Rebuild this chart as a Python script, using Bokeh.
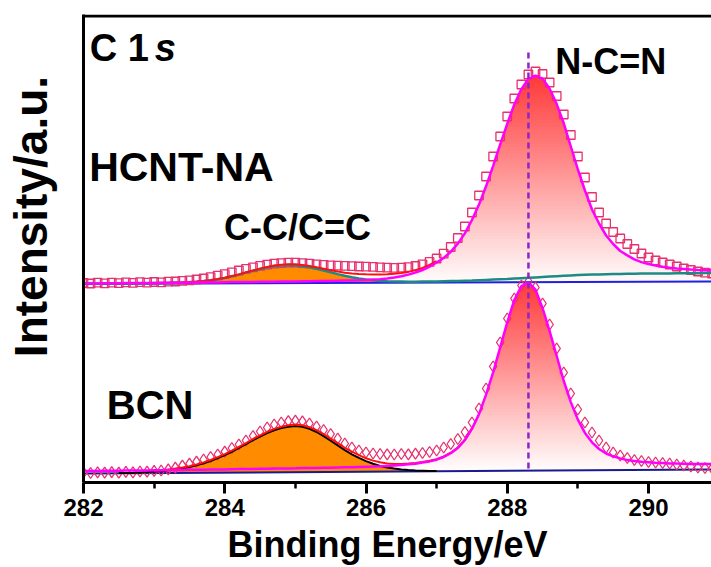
import numpy as np
from bokeh.plotting import figure
from bokeh.models import Range1d, FixedTicker, Label, Span
from bokeh.embed import file_html
from bokeh.resources import INLINE

# ---------------- data ----------------
energy = [round(282.0 + 0.1 * i, 1) for i in range(90)]   # binding energy grid, eV

x_ticks = [282, 284, 286, 288, 290]
x_minor = [283, 285, 287, 289]
ncn_position = 288.3

# BCN (lower spectrum)
bcn_data = [10.0, 9.5, 10.2, 9.8, 10.4, 9.9, 10.6, 10.2, 11.0, 10.8,
            11.6, 12.0, 13.2, 14.8, 16.8, 18.8, 20.8, 23.0, 25.5, 28.0,
            30.8, 34.5, 38.0, 42.0, 46.5, 51.0, 55.0, 58.0, 60.0, 61.3,
            61.8, 61.2, 59.0, 56.0, 52.5, 48.5, 44.0, 39.0, 35.0, 32.0,
            30.0, 29.0, 28.5, 28.2, 28.0, 28.5, 28.2, 28.8, 29.5, 30.5,
            32.0, 35.0, 38.5, 43.5, 50.5, 60.0, 74.0, 94.0, 116.0, 140.0,
            164.0, 184.0, 197.0, 201.0, 195.0, 179.0, 158.0, 134.0, 110.0, 89.0,
            73.0, 60.0, 50.0, 42.0, 35.0, 30.0, 27.0, 24.5, 22.5, 21.5,
            20.5, 20.0, 19.5, 19.0, 18.0, 17.0, 16.0, 15.0, 14.5, 14.0]
bcn_ncn = [11.5, 11.6, 11.6, 11.7, 11.8, 11.8, 11.9, 12.0, 12.0, 12.1,
           12.3, 12.3, 12.4, 12.5, 12.6, 12.7, 12.8, 12.8, 12.9, 13.0,
           13.1, 13.3, 13.4, 13.4, 13.6, 13.7, 13.7, 13.9, 14.0, 14.1,
           14.2, 14.4, 14.4, 14.6, 14.7, 14.8, 15.0, 15.2, 15.3, 15.5,
           15.7, 15.9, 16.2, 16.6, 17.0, 17.5, 18.2, 18.7, 19.9, 21.1,
           22.8, 25.5, 29.3, 34.5, 42.4, 53.6, 68.4, 87.9, 110.2, 135.2,
           160.2, 182.5, 196.4, 200.0, 192.9, 174.4, 151.4, 126.5, 101.5, 80.4,
           62.9, 49.6, 40.2, 33.5, 29.0, 26.2, 24.1, 22.4, 21.6, 20.7,
           20.2, 19.7, 19.5, 19.1, 18.9, 18.8, 18.6, 18.6, 18.6, 18.5]
bcn_cc_energy = energy[5:51]          # 282.5 ... 287.0
bcn_cc = [9.4, 9.6, 9.8, 10.1, 10.4, 10.9, 11.4, 12.2, 13.1, 14.0,
          15.4, 17.1, 19.2, 21.5, 24.4, 27.4, 30.7, 34.6, 38.3, 42.3,
          46.0, 49.5, 52.3, 54.5, 55.8, 56.4, 55.7, 53.6, 50.5, 46.4,
          41.9, 37.1, 32.3, 28.2, 24.6, 21.4, 18.7, 16.6, 15.0, 14.0,
          13.1, 12.5, 12.0, 11.8, 11.6, 11.5]
bcn_env_energy = energy[10:56]        # 283.0 ... 287.5
bcn_env = [11.8, 12.3, 13.0, 13.9, 14.9, 16.3, 18.0, 20.1, 22.5, 25.4,
           28.4, 31.8, 35.7, 39.4, 43.5, 47.2, 50.7, 53.6, 55.8, 57.2,
           57.9, 57.2, 55.3, 52.3, 48.3, 43.9, 39.3, 34.7, 30.8, 27.3,
           24.2, 21.9, 20.2, 19.0, 18.4, 18.5, 19.0, 19.6, 20.6, 21.8,
           23.3, 26.0, 29.8, 35.0, 42.9, 54.1]
bcn_base_energy = [282.0, 290.9]
bcn_base = [9.0, 13.0]

# HCNT-NA (upper spectrum, offset)
hcnt_data = [199.5, 199.0, 199.8, 199.2, 199.9, 199.4, 200.1, 199.6, 200.3, 199.9,
             200.5, 200.2, 200.9, 201.0, 201.6, 202.2, 203.0, 204.0, 205.3, 206.8,
             208.4, 210.2, 212.0, 213.6, 215.2, 216.6, 217.8, 218.8, 219.4, 219.8,
             219.8, 219.4, 218.8, 218.2, 217.6, 217.2, 216.8, 216.6, 216.3, 216.0,
             215.8, 215.6, 215.2, 214.8, 214.6, 214.8, 215.4, 216.5, 218.2, 220.6,
             224.0, 228.8, 235.5, 244.5, 256.0, 270.0, 287.0, 306.0, 326.0, 346.0,
             366.0, 384.0, 398.0, 408.0, 411.0, 408.5, 400.0, 386.5, 368.0, 347.5,
             326.0, 305.0, 285.5, 270.0, 259.0, 250.5, 244.0, 238.5, 233.5, 229.0,
             225.0, 222.0, 220.0, 218.0, 216.0, 214.0, 212.5, 211.0, 209.8, 209.0]
hcnt_ncn = [199.0, 199.1, 199.1, 199.2, 199.2, 199.3, 199.4, 199.4, 199.5, 199.5,
            199.6, 199.7, 199.7, 199.8, 199.8, 199.9, 200.0, 200.0, 200.1, 200.1,
            200.3, 200.4, 200.4, 200.5, 200.6, 200.7, 200.8, 200.8, 200.9, 201.0,
            201.1, 201.2, 201.3, 201.4, 201.5, 201.6, 201.8, 201.9, 202.0, 202.2,
            202.5, 202.9, 203.3, 204.0, 204.9, 206.2, 207.9, 210.0, 212.5, 215.8,
            220.0, 224.5, 230.7, 238.9, 249.1, 262.5, 277.9, 296.2, 316.7, 338.2,
            358.7, 378.1, 393.4, 403.7, 406.8, 403.9, 393.7, 378.4, 359.2, 336.0,
            313.0, 292.0, 273.0, 259.0, 247.0, 238.5, 231.5, 227.1, 223.1, 220.4,
            218.5, 217.0, 215.7, 214.8, 214.0, 213.5, 213.0, 212.6, 212.3, 211.9]
hcnt_cc = [199.0, 199.0, 199.1, 199.1, 199.1, 199.2, 199.2, 199.2, 199.3, 199.3,
           199.4, 199.5, 199.6, 199.8, 200.0, 200.3, 200.8, 201.4, 202.2, 203.3,
           204.6, 206.2, 207.9, 209.9, 211.7, 213.5, 215.1, 216.4, 217.1, 217.5,
           217.2, 216.5, 215.3, 213.8, 212.0, 210.3, 208.4, 206.7, 205.2, 204.0,
           202.9, 202.2, 201.6, 201.2, 201.0, 200.9, 200.8, 200.8, 200.9, 200.9,
           201.0, 201.2, 201.4, 201.6, 201.8, 202.0, 202.3, 202.6, 202.9, 203.2,
           203.5, 203.9, 204.3, 204.7, 205.1, 205.5, 205.9, 206.3, 206.7, 207.1,
           207.5, 207.7, 207.9, 208.1, 208.3, 208.5, 208.6, 208.7, 208.8, 208.9,
           209.0, 209.0, 209.1, 209.1, 209.2, 209.2, 209.3, 209.3, 209.4, 209.4]
hcnt_env_energy = energy[10:51]       # 283.0 ... 287.0
hcnt_env = [199.5, 199.6, 199.7, 199.9, 200.1, 200.4, 200.9, 201.5, 202.3, 203.4,
            204.8, 206.4, 208.1, 210.2, 212.0, 213.9, 215.6, 217.0, 217.8, 218.3,
            218.2, 217.6, 216.6, 215.3, 213.8, 212.3, 210.9, 209.8, 209.0, 208.5,
            208.2, 208.1, 208.1, 208.3, 208.7, 209.4, 210.6, 212.4, 214.6, 217.6,
            221.3]
hcnt_base_energy = [282.0, 290.9]
hcnt_base = [198.5, 201.0]

# ---------------- styling ----------------
FONT = "Liberation Sans"
MARKER = "#E5326F"
MAGENTA = "#FF00FF"
RED = "#FF1010"
ORANGE = "#FF8C00"
TEAL = "#1E8A84"
BLUE = "#2020E0"
DARKBLUE = "#1A1A90"
DASH = "#8E24C9"
TOP_RGB = (255, 58, 58)
NBSP = "\u00a0"

p = figure(width=711, height=567, output_backend="svg", toolbar_location=None,
           x_range=Range1d(282.0, 290.892), y_range=Range1d(0, 468),
           min_border_left=83, min_border_right=0, min_border_top=14,
           min_border_bottom=85)
p.outline_line_color = None
p.xgrid.visible = False
p.ygrid.visible = False
p.background_fill_color = "white"
p.border_fill_color = "white"

xa = p.xaxis[0]
xa.ticker = FixedTicker(ticks=x_ticks, minor_ticks=x_minor)
xa.axis_line_width = 3
xa.axis_line_color = "black"
xa.major_tick_line_width = 3
xa.major_tick_out = 11
xa.major_tick_in = 0
xa.minor_tick_line_width = 2.5
xa.minor_tick_out = 6
xa.minor_tick_in = 0
xa.major_label_text_font = FONT
xa.major_label_text_font_style = "bold"
xa.major_label_text_font_size = "24px"
xa.major_label_text_color = "black"
xa.major_label_standoff = 5
xa.axis_label = "Binding Energy/eV" + NBSP * 2
xa.axis_label_text_font = FONT
xa.axis_label_text_font_style = "bold"
xa.axis_label_text_font_size = "36px"
xa.axis_label_text_color = "black"
xa.axis_label_standoff = 5

ya = p.yaxis[0]
ya.ticker = FixedTicker(ticks=[])
ya.axis_line_width = 3
ya.axis_line_color = "black"
ya.major_tick_line_color = None
ya.minor_tick_line_color = None
ya.major_label_text_font_size = "0px"
ya.axis_label = NBSP * 5 + "Intensity/a.u."
ya.axis_label_text_font = FONT
ya.axis_label_text_font_style = "bold"
ya.axis_label_text_font_size = "46px"
ya.axis_label_text_color = "black"
ya.axis_label_standoff = 27

# top frame line
p.add_layout(Span(location=466.6, dimension="width", line_color="black", line_width=3))


def gradient_fill(x, curve, n=70):
    c = np.asarray(curve, dtype=float)
    lo, hi = c.min(), c.max()
    edges = np.linspace(lo, hi, n + 1)[1:]
    for k in range(n - 1, -1, -1):
        f = (k + 1) / n
        col = tuple(int(round(255 + (t - 255) * f)) for t in TOP_RGB)
        ytop = np.maximum(np.minimum(c, edges[k]), lo)
        p.varea(x=x, y1=lo, y2=ytop, fill_color="#%02x%02x%02x" % col)


# gradient filled N-C=N components
gradient_fill(energy, bcn_ncn)
gradient_fill(energy, hcnt_ncn)

# orange C-C/C=C components
p.patch(bcn_cc_energy, bcn_cc, fill_color=ORANGE, line_color=None)
p.patch(energy[10:47], hcnt_cc[10:47], fill_color=ORANGE, line_color=None)

# baselines
p.line(bcn_base_energy, bcn_base, line_color=DARKBLUE, line_width=2)
p.line(hcnt_base_energy, hcnt_base, line_color=BLUE, line_width=2)

# markers (raw data)
p.scatter(energy, bcn_data, marker="diamond", size=11, line_color=MARKER,
          fill_alpha=0, line_width=1.3)
p.scatter(energy, hcnt_data, marker="square", size=8.5, line_color=MARKER,
          fill_alpha=0, line_width=1.3)

# component outlines
p.line(bcn_cc_energy, bcn_cc, line_color="black", line_width=2)
p.line(energy, hcnt_cc, line_color=TEAL, line_width=2.5)

# envelopes
p.line(bcn_env_energy, bcn_env, line_color=RED, line_width=2)
p.line(hcnt_env_energy, hcnt_env, line_color=RED, line_width=2)

# N-C=N component outlines
p.line(energy, bcn_ncn, line_color=MAGENTA, line_width=2.5)
p.line(energy, hcnt_ncn, line_color=MAGENTA, line_width=2.5)

# dashed reference line at N-C=N position
p.segment(x0=[ncn_position], y0=[14], x1=[ncn_position], y1=[432],
          line_color=DASH, line_width=2.5, line_dash="6 4")


def label(x, y, s, size, style="bold"):
    p.add_layout(Label(x=x, y=y, text=s, text_font=FONT, text_font_size=size,
                       text_font_style=style, text_align="left",
                       text_baseline="alphabetic", text_color="black"))


label(282.09, 435, "C 1", "38px")
label(283.01, 435, "s", "38px", style="bold italic")
label(282.08, 316, "HCNT-NA", "41px")
label(283.99, 255, "C-C/C=C", "36px")
label(288.68, 421, "N-C=N", "36px")
label(282.33, 78, "BCN", "40px")

open("out.html", "w").write(file_html(p, INLINE))
